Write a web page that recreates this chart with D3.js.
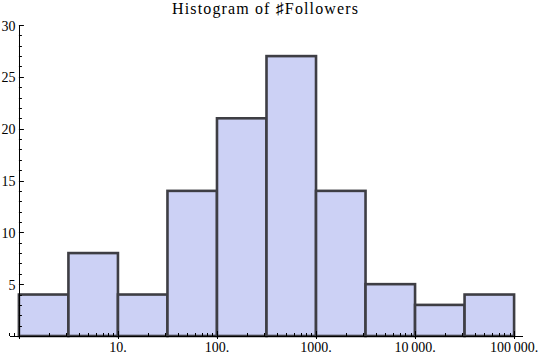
<!DOCTYPE html>
<html><head><meta charset="utf-8">
<script src="https://cdn.jsdelivr.net/npm/d3@7"></script>
<style>body{margin:0;background:#fff}</style>
</head><body>
<svg id="c" width="540" height="359"></svg>
<script>
const binEdgesExp = [0, 0.5, 1, 1.5, 2, 2.5, 3, 3.5, 4, 4.5, 5];
const counts = [4, 8, 4, 14, 21, 27, 14, 5, 3, 4];
const xTickValues = [10, 100, 1000, 10000, 100000];
const xTickLabels = ["10.", "100.", "1000.", "10\u2009000.", "100\u2009000."];
const yTickValues = [5, 10, 15, 20, 25, 30];
const title = "Histogram of \u266FFollowers";
const FONT = "Liberation Serif";

const svg = d3.select("#c");
const x = d3.scaleLog().domain([Math.pow(10, -0.09), Math.pow(10, 5.09)]).range([10, 523]);
const y = d3.scaleLinear().domain([0, 30]).range([336, 25]);
const x0 = x(1);

// bars
const bins = counts.map((c, i) => ({c, lo: Math.pow(10, binEdgesExp[i]), hi: Math.pow(10, binEdgesExp[i+1])}));
svg.append("g").selectAll("rect").data(bins).join("rect")
  .attr("x", d => x(d.lo)).attr("width", d => x(d.hi) - x(d.lo))
  .attr("y", d => y(d.c)).attr("height", d => y(0) - y(d.c))
  .attr("fill", "#ccd1f5").attr("stroke", "#3e3e44").attr("stroke-width", 2.6);

// x axis
const ax = svg.append("g").attr("stroke", "#000").attr("stroke-width", 1);
ax.append("line").attr("x1", 10).attr("x2", 523).attr("y1", y(0)+0.5).attr("y2", y(0)+0.5);
const minor = [0.8, 0.9];
for (let e = 0; e < 5; e++) for (let k = 2; k <= 9; k++) minor.push(k * Math.pow(10, e));
ax.selectAll(".mx").data(minor).join("line")
  .attr("x1", d => Math.round(x(d))+0.5).attr("x2", d => Math.round(x(d))+0.5)
  .attr("y1", y(0)).attr("y2", y(0)-3);
ax.selectAll(".Mx").data([1].concat(xTickValues)).join("line")
  .attr("x1", d => Math.round(x(d))+0.5).attr("x2", d => Math.round(x(d))+0.5)
  .attr("y1", y(0)+3).attr("y2", y(0)-5);
svg.append("g").selectAll("text").data(xTickValues).join("text")
  .attr("x", d => x(d)).attr("y", 352)
  .attr("text-anchor", "middle").style("font-family", FONT).style("font-size", "14px")
  .text((d, i) => xTickLabels[i]);

// y axis
const ay = svg.append("g").attr("stroke", "#000").attr("stroke-width", 1);
ay.append("line").attr("x1", Math.round(x0)+0.5).attr("x2", Math.round(x0)+0.5).attr("y1", y(30)).attr("y2", y(0)+3);
const yMinor = d3.range(1, 31).filter(v => v % 5 !== 0);
ay.selectAll(".my").data(yMinor).join("line")
  .attr("x1", x0).attr("x2", x0+3)
  .attr("y1", d => Math.round(y(d))+0.5).attr("y2", d => Math.round(y(d))+0.5);
ay.selectAll(".My").data(yTickValues).join("line")
  .attr("x1", x0).attr("x2", x0+5)
  .attr("y1", d => Math.round(y(d))+0.5).attr("y2", d => Math.round(y(d))+0.5);
svg.append("g").selectAll("text").data(yTickValues).join("text")
  .attr("x", 15.5).attr("y", d => y(d)+5.5)
  .attr("text-anchor", "end").style("font-family", FONT).style("font-size", "14px")
  .text(d => d);

// title
svg.append("text").attr("x", 265).attr("y", 14).attr("text-anchor", "middle")
  .attr("textLength", 186).attr("lengthAdjust", "spacing")
  .style("font-family", FONT).style("font-size", "16px").text(title);
</script>
</body></html>
